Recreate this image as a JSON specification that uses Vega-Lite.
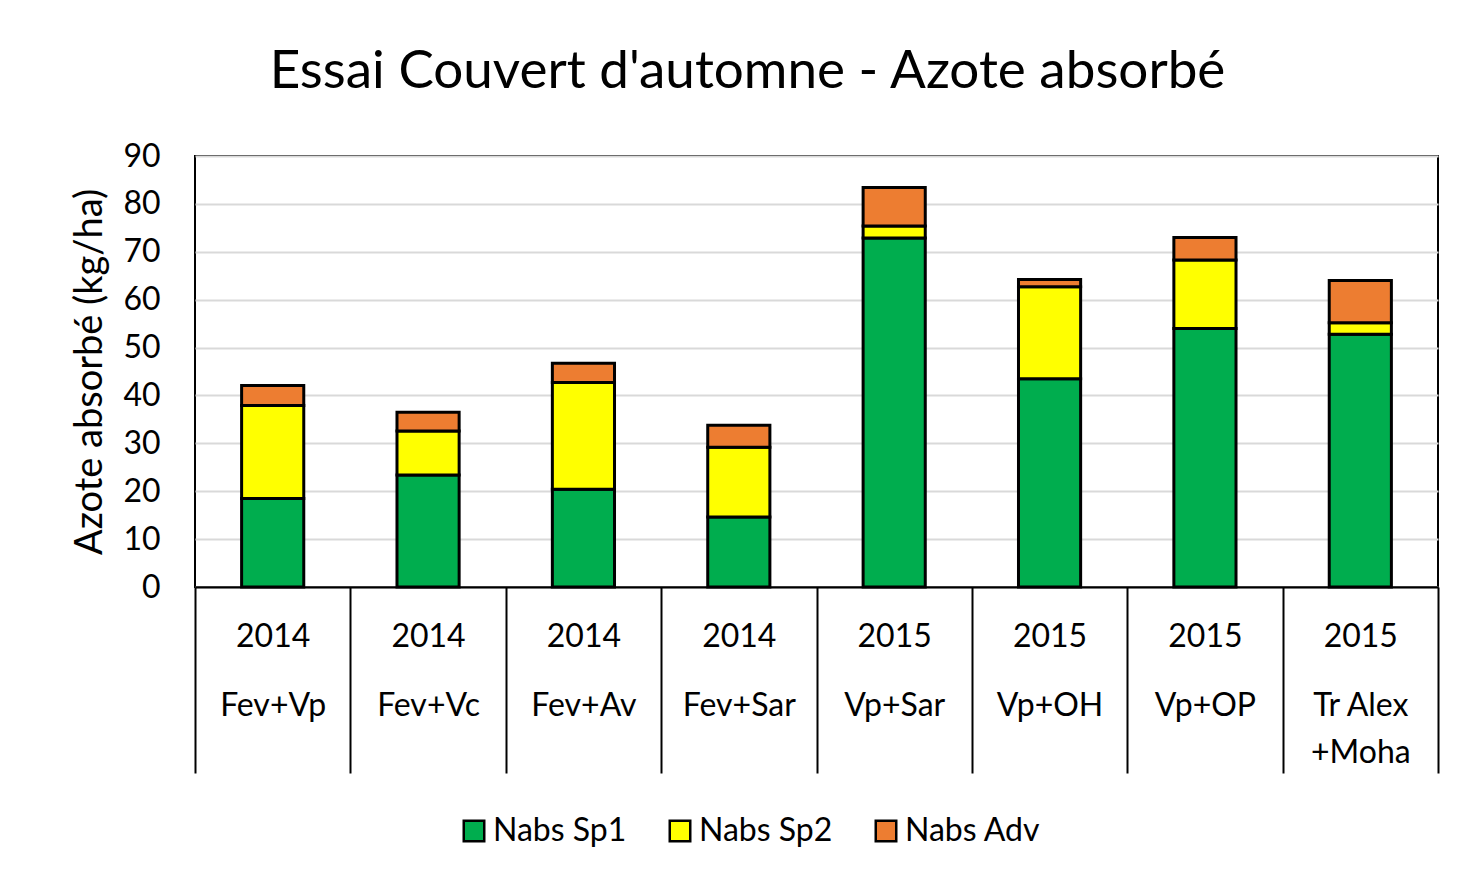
{
  "$schema": "https://vega.github.io/schema/vega-lite/v6.json",
  "autosize": {"type": "none"},
  "width": 1243,
  "height": 431,
  "padding": {"left": 195, "top": 156, "right": 32, "bottom": 296},
  "background": "white",
  "config": {
    "font": "Lato",
    "view": {"stroke": "black", "strokeWidth": 2}
  },
  "title": {
    "text": "Essai Couvert d'automne - Azote absorbé",
    "fontSize": 53,
    "fontWeight": "normal",
    "font": "Lato",
    "color": "black",
    "anchor": "middle",
    "frame": "group",
    "dx": -69,
    "baseline": "alphabetic",
    "offset": -1
  },
  "data": {
    "values": [
      {"cat": "2014|Fev+Vp", "serie": "Nabs Sp1", "o": 1, "v": 18.5},
      {"cat": "2014|Fev+Vp", "serie": "Nabs Sp2", "o": 2, "v": 19.4},
      {"cat": "2014|Fev+Vp", "serie": "Nabs Adv", "o": 3, "v": 4.2},
      {"cat": "2014|Fev+Vc", "serie": "Nabs Sp1", "o": 1, "v": 23.4},
      {"cat": "2014|Fev+Vc", "serie": "Nabs Sp2", "o": 2, "v": 9.2},
      {"cat": "2014|Fev+Vc", "serie": "Nabs Adv", "o": 3, "v": 3.9},
      {"cat": "2014|Fev+Av", "serie": "Nabs Sp1", "o": 1, "v": 20.4},
      {"cat": "2014|Fev+Av", "serie": "Nabs Sp2", "o": 2, "v": 22.3},
      {"cat": "2014|Fev+Av", "serie": "Nabs Adv", "o": 3, "v": 4.0},
      {"cat": "2014|Fev+Sar", "serie": "Nabs Sp1", "o": 1, "v": 14.6},
      {"cat": "2014|Fev+Sar", "serie": "Nabs Sp2", "o": 2, "v": 14.6},
      {"cat": "2014|Fev+Sar", "serie": "Nabs Adv", "o": 3, "v": 4.6},
      {"cat": "2015|Vp+Sar", "serie": "Nabs Sp1", "o": 1, "v": 72.9},
      {"cat": "2015|Vp+Sar", "serie": "Nabs Sp2", "o": 2, "v": 2.5},
      {"cat": "2015|Vp+Sar", "serie": "Nabs Adv", "o": 3, "v": 8.0},
      {"cat": "2015|Vp+OH", "serie": "Nabs Sp1", "o": 1, "v": 43.5},
      {"cat": "2015|Vp+OH", "serie": "Nabs Sp2", "o": 2, "v": 19.2},
      {"cat": "2015|Vp+OH", "serie": "Nabs Adv", "o": 3, "v": 1.5},
      {"cat": "2015|Vp+OP", "serie": "Nabs Sp1", "o": 1, "v": 54.0},
      {"cat": "2015|Vp+OP", "serie": "Nabs Sp2", "o": 2, "v": 14.3},
      {"cat": "2015|Vp+OP", "serie": "Nabs Adv", "o": 3, "v": 4.7},
      {"cat": "2015|Tr Alex|+Moha", "serie": "Nabs Sp1", "o": 1, "v": 52.8},
      {"cat": "2015|Tr Alex|+Moha", "serie": "Nabs Sp2", "o": 2, "v": 2.4},
      {"cat": "2015|Tr Alex|+Moha", "serie": "Nabs Adv", "o": 3, "v": 8.8}
    ]
  },
  "mark": {"type": "bar", "width": {"band": 0.4}, "stroke": "black", "strokeWidth": 3},
  "encoding": {
    "x": {
      "field": "cat",
      "type": "nominal",
      "sort": null,
      "scale": {"paddingInner": 0, "paddingOuter": 0},
      "axis": {
        "title": null,
        "labelAngle": 0,
        "labelExpr": "isValid(datum.value) ? [split(datum.value,'|')[0], '\u200b', '\u200b', split(datum.value,'|')[1], '\u200b', split(datum.value,'|')[2] || '\u200b'] : ''",
        "labelFontSize": 32,
        "labelColor": "black",
        "labelBaseline": "alphabetic",
        "labelLineHeight": 23.3,
        "labelPadding": -127,
        "labelAlign": "center",
        "tickBand": "extent",
        "tickSize": 186,
        "tickColor": "black",
        "tickWidth": 2,
        "domainColor": "black",
        "domainWidth": 2,
        "grid": false
      }
    },
    "y": {
      "field": "v",
      "type": "quantitative",
      "stack": "zero",
      "scale": {"domain": [0, 90]},
      "axis": {
        "title": "Azote absorbé (kg/ha)",
        "titleFontSize": 38,
        "titleFontWeight": "normal",
        "titleColor": "black",
        "titlePadding": 13,
        "values": [0, 10, 20, 30, 40, 50, 60, 70, 80, 90],
        "labelFontSize": 32,
        "labelColor": "black",
        "labelPadding": 35,
        "ticks": false,
        "domain": false,
        "gridColor": "#d9d9d9",
        "gridWidth": 2
      }
    },
    "color": {
      "field": "serie",
      "type": "nominal",
      "scale": {
        "domain": ["Nabs Sp1", "Nabs Sp2", "Nabs Adv"],
        "range": ["#00AD4E", "#FFFF00", "#ED7D31"]
      },
      "legend": {
        "title": null,
        "orient": "none",
        "direction": "horizontal",
        "legendX": 263,
        "legendY": 659,
        "symbolType": "square",
        "symbolSize": 420,
        "symbolStrokeColor": "black",
        "symbolStrokeWidth": 2.5,
        "labelFontSize": 32,
        "labelColor": "black",
        "labelOffset": 3,
        "columnPadding": 37
      }
    },
    "order": {"field": "o", "type": "quantitative"}
  }
}
